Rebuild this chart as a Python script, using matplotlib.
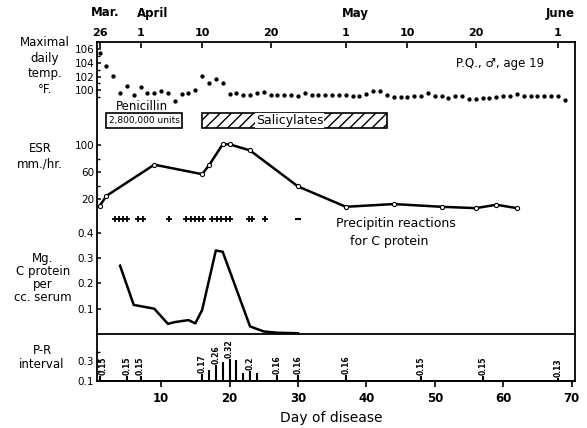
import matplotlib
matplotlib.use("Agg")
import matplotlib.pyplot as plt
from matplotlib.patches import Rectangle

plt.rcParams['font.family'] = ['DejaVu Sans']

# maximal daily temperature, one reading per day of disease
temp_days = list(range(1, 70))
temp_vals = [105.5, 103.6, 102.1, 99.5, 100.6, 99.2, 100.5, 99.5, 99.5, 99.8,
             99.5, 98.4, 99.4, 99.5, 100.0, 102.1, 101.1, 101.7, 101.1, 99.4,
             99.6, 99.2, 99.2, 99.6, 99.7, 99.3, 99.3, 99.2, 99.2, 99.1,
             99.6, 99.2, 99.2, 99.2, 99.2, 99.2, 99.2, 99.1, 99.1, 99.4,
             99.8, 99.8, 99.3, 99.0, 99.0, 99.0, 99.1, 99.1, 99.5, 99.1,
             99.1, 98.8, 99.1, 99.1, 98.7, 98.7, 98.8, 98.8, 99.0, 99.1,
             99.1, 99.4, 99.1, 99.1, 99.1, 99.1, 99.1, 99.1, 98.5]

# sedimentation rate
esr_days = [1, 2, 9, 16, 17, 19, 20, 23, 30, 37, 44, 51, 56, 59, 62]
esr_vals = [10, 25, 71, 57, 70, 101, 101, 92, 39, 9, 13, 9, 7, 12, 7]

# precipitin reactions (+ positive, - negative)
pos_days = [3.2, 3.8, 4.4, 5.0, 6.6, 7.3, 11.1, 13.7, 14.3, 15.0, 15.6, 16.1,
            17.4, 18.1, 18.8, 19.5, 20.1, 22.8, 23.3, 25.2]
neg_days = [30]

# C protein mg per cc serum
crp_days = [4, 6, 7, 9, 11, 12, 14, 15, 16, 18, 19, 23, 25, 27, 30]
crp_vals = [0.27, 0.115, 0.11, 0.10, 0.04, 0.047, 0.055, 0.042, 0.095,
            0.33, 0.325, 0.03, 0.01, 0.005, 0.003]

# P-R interval
pr_days = [1, 5, 7, 16, 17, 18, 19, 20, 21, 22, 23, 24, 27, 30, 37, 48, 57, 68]
pr_vals = [0.15, 0.15, 0.15, 0.17, 0.21, 0.26, 0.29, 0.32, 0.31, 0.18, 0.2,
           0.18, 0.16, 0.16, 0.16, 0.15, 0.15, 0.13]
pr_labels = ['0.15', '0.15', '0.15', '0.17', '', '0.26', '', '0.32', '', '',
             '0.2', '', '0.16', '0.16', '0.16', '0.15', '0.15', '0.13']

# calendar
date_days = [1, 7, 16, 26, 37, 46, 56, 68]
date_labels = ['26', '1', '10', '20', '1', '10', '20', '1']
month_days = [1.8, 8.7, 38.4, 68.3]
month_labels = ['Mar.', 'April', 'May', 'June']

penicillin = (2, 13)
salicylates = (16, 43)

W, H = 587, 428
XL = (0.63, 70.5)
fig = plt.figure(figsize=(W / 100, H / 100), dpi=100)


def box(top, bot, left=97, right=575):
    return [left / W, 1 - bot / H, (right - left) / W, (bot - top) / H]


def fy(py):
    # pixel row -> frame axes fraction
    return (381 - py) / 339


frame = fig.add_axes(box(42, 381))
frame.set_xlim(*XL)
frame.set_ylim(0, 1)
frame.set_yticks([])
for s in frame.spines.values():
    s.set_linewidth(1.3)
frame.set_xticks(date_days)
frame.set_xticklabels(date_labels, fontsize=8, fontweight='bold')
frame.tick_params(axis='x', top=True, labeltop=True, bottom=False,
                  labelbottom=False, direction='in', length=4, width=1.2, pad=3)
for d, m in zip(month_days, month_labels):
    frame.text(d, fy(13), m, ha='center', va='center', fontsize=8.5,
               fontweight='bold')


def panel(top, bot, ylim):
    a = fig.add_axes(box(top, bot))
    a.set_xlim(*XL)
    a.set_ylim(*ylim)
    a.patch.set_alpha(0)
    for s in a.spines.values():
        s.set_visible(False)
    a.set_xticks([])
    a.tick_params(axis='y', direction='in', length=3, width=1.1, pad=2, labelsize=7.5)
    a.tick_params(axis='y', which='minor', direction='in', length=2.5, width=1)
    return a


# temperature
at = panel(42, 110, (97.04, 107.11))
at.set_yticks([100, 102, 104, 106])
at.set_yticks([99, 101, 103, 105], minor=True)
at.plot(temp_days, temp_vals, 'o', color='black', ms=2.1)

# ESR
ae = panel(135, 215, (-3.1, 114.7))
ae.set_yticks([20, 60, 100])
ae.set_yticks([40, 80], minor=True)
ae.plot(esr_days, esr_vals, '-o', color='black', lw=1.8, ms=3,
        mfc='white', mew=0.8)

# C protein
ac = panel(230, 334, (0, 0.411))
ac.set_yticks([0.1, 0.2, 0.3, 0.4])
ac.set_yticklabels(['0.1', '0.2', '0.3', '0.4'])
ac.plot(crp_days, crp_vals, '-', color='black', lw=1.8)

# P-R interval
ap = panel(334, 381, (0.1, 0.58))
ap.spines['top'].set_visible(True)
ap.spines['top'].set_linewidth(1.3)
ap.spines['bottom'].set_visible(True)
ap.spines['bottom'].set_linewidth(1.3)
ap.set_yticks([0.1, 0.3])
ap.set_yticks([0.2, 0.4], minor=True)
ap.set_xticks([10, 20, 30, 40, 50, 60, 70])
ap.tick_params(axis='x', bottom=True, labelbottom=True, direction='out',
               length=4, width=1.2, pad=4, labelsize=8.5)
for lab in ap.get_xticklabels():
    lab.set_fontweight('bold')
ap.vlines(pr_days, 0.1, pr_vals, color='black', lw=1.5)
for d, v, t in zip(pr_days, pr_vals, pr_labels):
    if t:
        ap.text(d + (0.5 if d == 1 else 0), v + 0.01, t, rotation=90,
                ha='center', va='bottom', fontsize=5.5, fontweight='bold')

# precipitin marks
frame.plot(pos_days, [fy(219)] * len(pos_days), '+', color='black', ms=4, mew=1.3)
frame.plot(neg_days, [fy(219)] * len(neg_days), '_', color='black', ms=4, mew=1.5)
frame.text(35.5, fy(224), 'Precipitin reactions', ha='left', va='center', fontsize=9)
frame.text(43.4, fy(241), 'for C protein', ha='center', va='center', fontsize=9)

# treatment bars
frame.add_patch(Rectangle((penicillin[0], fy(128)), penicillin[1] - penicillin[0],
                          fy(113) - fy(128), fill=False, lw=1.2, ec='black'))
frame.text(sum(penicillin) / 2, fy(120.5), '2,800,000 units', ha='center',
           va='center', fontsize=6.5)
frame.text(sum(penicillin) / 2 - 0.3, fy(107), 'Penicillin', ha='center',
           va='center', fontsize=8.5)
frame.add_patch(Rectangle((salicylates[0], fy(128)), salicylates[1] - salicylates[0],
                          fy(113) - fy(128), fill=False, hatch='///', lw=1.2,
                          ec='black'))
frame.text(28.8, fy(120.5), 'Salicylates', ha='center', va='center', fontsize=9,
           bbox=dict(facecolor='white', edgecolor='none', pad=0.5))

frame.text(59.5, fy(63), 'P.Q., \u2642, age 19', ha='center', va='center', fontsize=8.5)

# row labels on the left
fig.text(45 / W, 1 - 66 / H, 'Maximal\ndaily\ntemp.\n\u00b0F.', ha='center',
         va='center', fontsize=8.5, linespacing=1.25)
fig.text(40 / W, 1 - 156 / H, 'ESR\nmm./hr.', ha='center', va='center',
         fontsize=8.5, linespacing=1.25)
fig.text(43 / W, 1 - 278 / H, 'Mg.\nC protein\nper\ncc. serum', ha='center',
         va='center', fontsize=8.5, linespacing=1.0)
fig.text(42 / W, 1 - 357 / H, 'P-R\ninterval', ha='center', va='center',
         fontsize=8.5, linespacing=1.1)
fig.text(331 / W, 1 - 418 / H, 'Day of disease', ha='center', va='center',
         fontsize=10)

fig.savefig('out.png', dpi=100)
